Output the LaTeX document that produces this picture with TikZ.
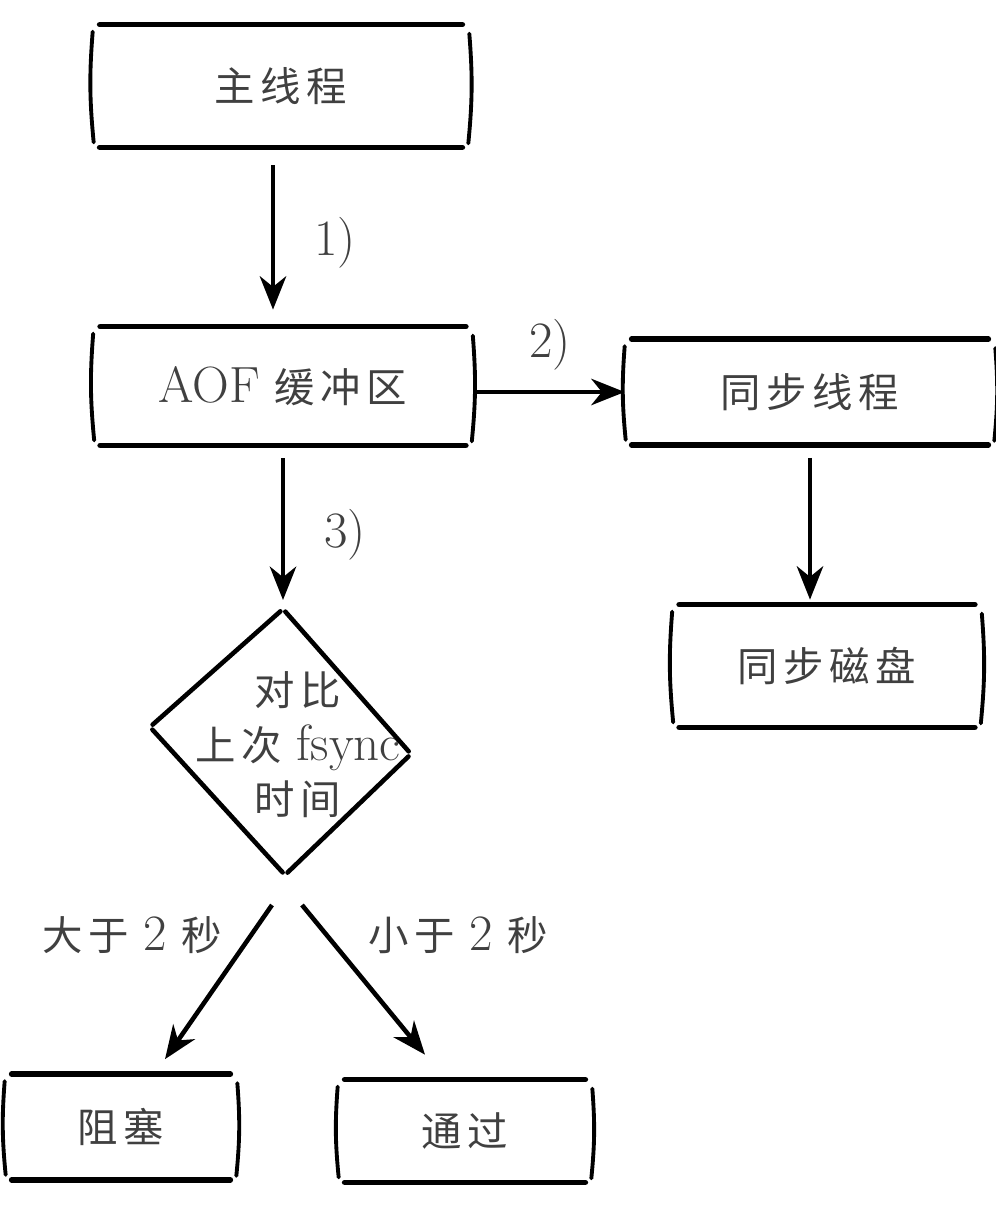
\documentclass[tikz,border=0pt]{standalone}
\usepackage{fontspec}
\newfontfamily\cjk[LetterSpace=14]{Noto Sans CJK SC}
\usepackage{tikz}
\usetikzlibrary{arrows.meta}
\usetikzlibrary{positioning}

\newcommand{\lat}[1]{{\fontsize{29}{31}\selectfont\rmfamily #1}}
\tikzset{
  boxline/.style={line width=3.2pt, line cap=round},
  sideline/.style={line width=2.2pt, line cap=round},
  sketch/.style={inner sep=0pt, text=black!75, font=\fontsize{23}{31}\selectfont\cjk},
  tag/.style={inner sep=0pt, text=black!75, font=\fontsize{23}{28}\selectfont\cjk},
  flow/.style={line width=2.6pt, -{Stealth[length=19pt,width=15pt,inset=6pt]}},
  rim/.style={line width=2.6pt, line cap=round, shorten <=2pt, shorten >=2pt},
}
\newcommand{\sketchbox}[1]{%
  \draw[boxline] (#1.north west) -- (#1.north east);
  \draw[boxline] (#1.south west) -- (#1.south east);
  \draw[sideline] ([shift={(-0.14cm,-0.14cm)}]#1.north west) to[bend right=5] ([shift={(-0.12cm,0.1cm)}]#1.south west);
  \draw[sideline] ([shift={(0.14cm,-0.18cm)}]#1.north east) to[bend left=5] ([shift={(0.12cm,0.08cm)}]#1.south east);
}

\begin{document}
\begin{tikzpicture}[x=0.02cm,y=-0.02cm]
\useasboundingbox (0,0) rectangle (996,1214);

\node[sketch, minimum width=7.24cm, minimum height=2.44cm] (main) at (281,86) {主线程};
\node[sketch, minimum width=7.3cm, minimum height=2.36cm] (aof) at (283,386) {\lat{AOF} 缓冲区};
\node[sketch, minimum width=7.12cm, minimum height=2.1cm] (sync) at (810,392) {同步线程};
\node[sketch, minimum width=5.9cm, minimum height=2.44cm] (disk) at (827,666) {同步磁盘};
\node[sketch, minimum width=4.36cm, minimum height=2.1cm] (block) at (121,1127) {阻塞};
\node[sketch, minimum width=4.8cm, minimum height=2.04cm] (pass) at (465,1131) {通过};
\sketchbox{main}
\sketchbox{aof}
\sketchbox{sync}
\sketchbox{disk}
\sketchbox{block}
\sketchbox{pass}

\node[sketch, align=center] (cmp) at (298,745) {对比\\上次 \lat{fsync}\\时间};
\coordinate (dtop) at (283,609);
\coordinate (dleft) at (150,727);
\coordinate (dright) at (411,754);
\coordinate (dbot) at (285,875);
\draw[rim] (dleft) -- (dtop);
\draw[rim] (dtop) -- (dright);
\draw[rim] (dright) -- (dbot);
\draw[rim] (dbot) -- (dleft);

\draw[flow, shorten <=0.36cm, shorten >=0.34cm] ([xshift=-0.16cm]main.south) -- ([xshift=-0.16cm]main.south |- aof.north);
\draw[flow, shorten <=0.2cm, shorten >=0.14cm] (aof.east |- sync.west) -- (sync.west);
\draw[flow, shorten <=0.26cm, shorten >=0.18cm] (aof.south) -- (dtop);
\draw[flow, shorten <=0.26cm, shorten >=0.1cm] (sync.south) -- (sync.south |- disk.north);
\draw[flow] ([shift={(-0.26cm,-0.6cm)}]dbot) -- ([shift={(0.88cm,0.3cm)}]block.north);
\draw[flow] ([shift={(0.34cm,-0.6cm)}]dbot) -- ([shift={(-0.8cm,0.5cm)}]pass.north);

\node[tag] (one) at (335,243) {\lat{1)}};
\node[tag] (two) at (550,345) {\lat{2)}};
\node[tag] (three) at (345,535) {\lat{3)}};
\node[tag] (more) at (132,935) {大于 \lat{2} 秒};
\node[tag] (less) at (458,935) {小于 \lat{2} 秒};
\end{tikzpicture}
\end{document}
